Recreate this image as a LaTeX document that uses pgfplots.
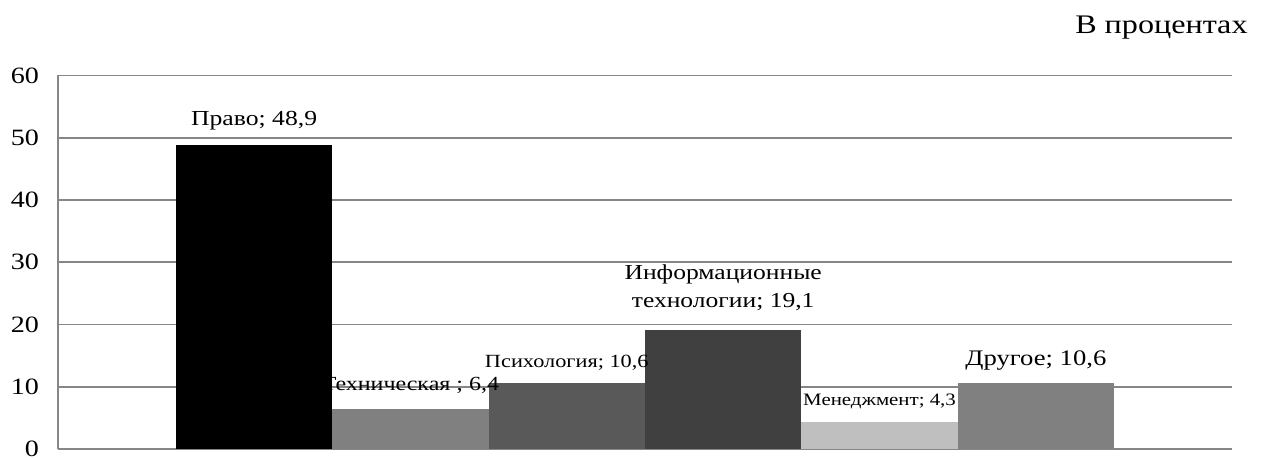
\documentclass[border=0pt]{standalone}
\usepackage{fontspec}
\setmainfont[FakeStretch=1.2]{Liberation Serif}
\usepackage{pgfplots}
\pgfplotsset{compat=1.18}
\definecolor{gridgray}{RGB}{134,134,134}
\definecolor{c1}{RGB}{0,0,0}
\definecolor{c2}{RGB}{128,128,128}
\definecolor{c3}{RGB}{89,89,89}
\definecolor{c4}{RGB}{64,64,64}
\definecolor{c5}{RGB}{191,191,191}
\definecolor{c6}{RGB}{128,128,128}
\pgfplotsset{
  lbl/.style={draw=none, fill=none, bar shift=0pt,
    every node near coord/.append style={inner sep=0pt, text=black}},
  bar/.style={fill=#1, draw=none, bar shift=0pt},
}
\begin{document}
\begin{tikzpicture}
\useasboundingbox (0,0) rectangle (632pt,229pt);
\begin{axis}[
  at={(29pt,4.5pt)}, anchor=south west, scale only axis,
  width=587pt, height=186.75pt,
  xmin=-1.254, xmax=6.254, ymin=0, ymax=60,
  ytick={0,10,...,60}, xtick=\empty,
  axis x line*=bottom, axis y line*=left,
  axis line style={gridgray, line width=0.8pt},
  ymajorgrids, grid style={gridgray, line width=0.8pt},
  major tick length=0pt,
  ybar, bar width=1,
  /pgf/number format/assume math mode=true,
  yticklabel style={font=\fontsize{11.7}{14}\selectfont, xshift=-6pt},
  clip=false,
]
% labels first, so that the bars lie over them
\addplot[lbl, nodes near coords={Право; 48,9},
  every node near coord/.append style={anchor=base, yshift=9.5pt,
    font=\fontsize{10.7}{13}\selectfont}]
  coordinates {(0,48.9)};
\addplot[lbl, nodes near coords={Техническая ; 6,4},
  every node near coord/.append style={anchor=base, yshift=9.5pt,
    font=\fontsize{10}{12}\selectfont}]
  coordinates {(1,6.4)};
\addplot[lbl, nodes near coords={Психология; 10,6},
  every node near coord/.append style={anchor=base, yshift=8pt,
    font=\fontsize{9.3}{11}\selectfont}]
  coordinates {(2,10.6)};
\addplot[lbl, nodes near coords={Информационные\\технологии; 19,1},
  every node near coord/.append style={anchor=south, yshift=9.5pt,
    align=center, font=\fontsize{10.65}{14}\selectfont}]
  coordinates {(3,19.1)};
\addplot[lbl, nodes near coords={Менеджмент; 4,3},
  every node near coord/.append style={anchor=base, yshift=8.5pt,
    font=\fontsize{8.7}{10.5}\selectfont}]
  coordinates {(4,4.3)};
\addplot[lbl, nodes near coords={Другое; 10,6},
  every node near coord/.append style={anchor=base, yshift=9pt,
    font=\fontsize{11.1}{13}\selectfont}]
  coordinates {(5,10.6)};
% bars
\addplot[bar=c1] coordinates {(0,48.9)};
\addplot[bar=c2] coordinates {(1,6.4)};
\addplot[bar=c3] coordinates {(2,10.6)};
\addplot[bar=c4] coordinates {(3,19.1)};
\addplot[bar=c5] coordinates {(4,4.3)};
\addplot[bar=c6] coordinates {(5,10.6)};
\end{axis}
\node[anchor=base east, inner sep=0pt, font=\fontsize{13.4}{16}\selectfont] at (624pt,212pt) {В процентах};
\end{tikzpicture}
\end{document}
